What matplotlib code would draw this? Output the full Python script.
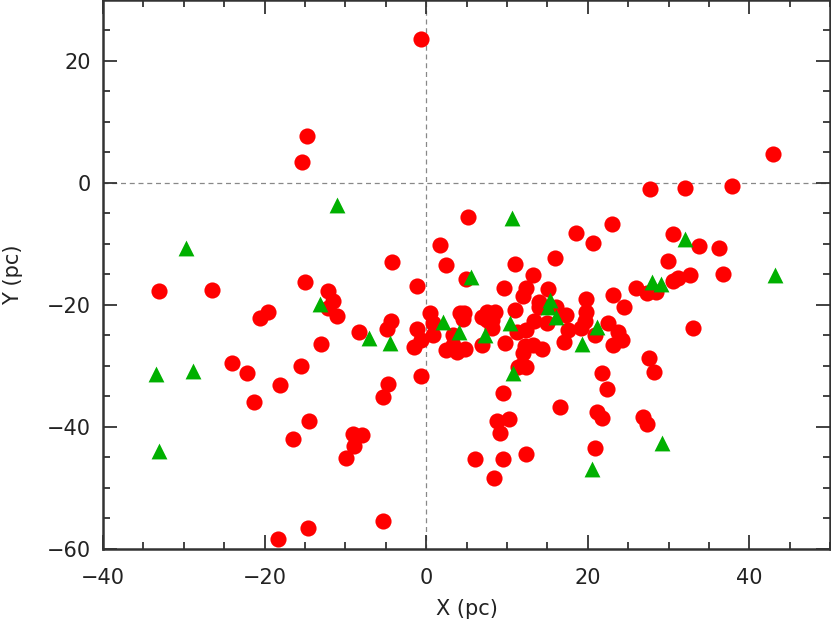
import matplotlib
matplotlib.use("Agg")
import matplotlib.pyplot as plt
from matplotlib.ticker import MultipleLocator

# red circles
red_x = [-0.7, -14.8, -15.4, 5.2, 1.7, -4.2, 2.4, 42.9, 27.7, 32.0, 37.9, 18.6, 20.7,
         23.0, 30.6, 33.8, 36.3, 29.9, 11.0, 13.2, 15.9, 36.7, 4.9, 30.5, 31.2, 32.7,
         9.6, 12.3, 12.0, 15.1, 13.9, 13.9, 16.1, 17.3, 19.8, 19.8, 19.6, 19.2, 17.6,
         17.0, 20.9, 22.5, 23.8, 24.2, 23.1, 23.1, 24.5, 26.0, 27.3, 28.4, 33.0, 27.6,
         28.2, 21.8, 22.4, 26.8, 27.3, 21.1, 21.7, 20.9, 16.6, 9.5, 8.8, 10.3, 9.1,
         12.4, 9.5, 6.0, 8.4, 11.8, 12.4, 11.4, 12.0, 12.2, 13.2, 14.3, 9.7, 11.0,
         11.2, 12.4, 13.4, 14.9, 0.5, 0.9, 0.9, -0.6, -1.2, -1.5, 3.3, 4.2, 4.7, 4.5,
         2.4, 3.8, 4.8, 3.3, 6.9, 7.5, 8.5, 8.1, 7.5, 8.1, 6.9, -0.7, -33.1, -26.5,
         -15.0, -12.1, -11.5, -12.1, -11.0, -20.6, -19.6, -1.2, -4.4, -4.8, -8.3,
         -13.0, -24.1, -22.2, -15.5, -18.1, -21.3, -4.7, -5.4, -14.5, -16.5, -9.0,
         -8.0, -8.9, -9.9, -5.4, -14.6, -18.3]
red_y = [23.6, 7.7, 3.4, -5.6, -10.1, -13.0, -13.4, 4.7, -1.0, -0.9, -0.5, -8.2, -9.9,
         -6.8, -8.3, -10.3, -10.7, -12.8, -13.3, -15.1, -12.3, -14.9, -15.7, -16.0,
         -15.6, -15.1, -17.3, -17.3, -18.6, -17.4, -19.5, -20.3, -20.3, -21.6, -19.1,
         -21.1, -22.7, -23.8, -24.1, -26.0, -24.9, -23.0, -24.4, -25.7, -26.6, -18.3,
         -20.4, -17.3, -18.1, -17.8, -23.8, -28.7, -31.0, -31.2, -33.8, -38.3, -39.6,
         -37.6, -38.6, -43.4, -36.7, -34.4, -39.1, -38.7, -41.0, -44.4, -45.3, -45.3,
         -48.3, -29.8, -30.1, -30.1, -27.9, -26.8, -26.6, -27.3, -26.2, -20.8, -24.4,
         -24.1, -22.7, -23.0, -21.4, -23.0, -24.9, -25.7, -24.0, -26.9, -24.9, -21.4,
         -21.3, -22.3, -27.4, -27.7, -27.3, -26.6, -21.9, -21.1, -21.1, -22.5, -22.5,
         -23.8, -26.6, -31.6, -17.7, -17.5, -16.2, -17.7, -19.3, -20.5, -21.8, -22.1,
         -21.1, -16.9, -22.6, -24.0, -24.4, -26.4, -29.5, -31.1, -30.0, -33.2, -36.0,
         -33.0, -35.1, -39.0, -42.0, -41.1, -41.3, -43.2, -45.1, -55.4, -56.5, -58.4]

# green triangles
green_x = [-11.05, -29.7, 10.6, 32.0, 43.2, 5.6, 28.0, 29.0, 15.3, 15.1, 16.1, 21.1,
           19.3, 10.7, 10.4, 2.1, 4.1, 7.3, 29.2, 20.5, -13.2, -7.1, -4.5, -33.5,
           -28.9, -33.1]
green_y = [-3.55, -10.7, -5.8, -9.2, -15.1, -15.5, -16.2, -16.6, -19.2, -20.3, -21.9,
           -23.6, -26.4, -31.2, -23.0, -22.8, -24.4, -24.9, -42.7, -46.9, -19.9, -25.5,
           -26.2, -31.3, -30.8, -43.9]

plt.rcParams["font.family"] = ["DejaVu Sans"]

fig = plt.figure(figsize=(8.31, 6.23), dpi=100)
ax = fig.add_axes([0.124, 0.119, 0.875, 0.881])

ax.axhline(0, color="#888888", lw=0.9, ls=(0, (4, 3)), zorder=1)
ax.axvline(0, color="#888888", lw=0.9, ls=(0, (4, 3)), zorder=1)

ax.scatter(red_x, red_y, s=135, marker="o", color="#ff0000", linewidths=0, zorder=2)
ax.scatter(green_x, green_y, s=130, marker="^", color="#00b000", linewidths=0, zorder=3)

ax.set_xlim(-40, 50)
ax.set_ylim(-60, 30)
ax.xaxis.set_major_locator(MultipleLocator(20))
ax.xaxis.set_minor_locator(MultipleLocator(5))
ax.yaxis.set_major_locator(MultipleLocator(20))
ax.yaxis.set_minor_locator(MultipleLocator(5))
ax.tick_params(which="both", direction="in", top=True, right=True,
               width=1.3, colors="#333333", labelcolor="#222222", labelsize=15)
ax.tick_params(which="major", length=10)
ax.tick_params(which="minor", length=5)
ax.tick_params(axis="x", which="major", pad=14)
ax.tick_params(axis="y", which="major", pad=9)
for sp in ax.spines.values():
    sp.set_linewidth(1.8)
    sp.set_color("#333333")

ax.set_xlabel("X (pc)", fontsize=15, color="#222222", labelpad=8)
ax.set_ylabel("Y (pc)", fontsize=15, color="#222222", labelpad=17)

fig.savefig("out.png", dpi=100)
